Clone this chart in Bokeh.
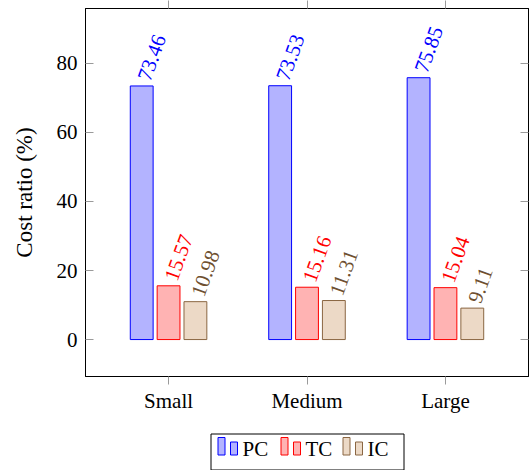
from bokeh.plotting import figure
from bokeh.models import Range1d, FixedTicker, LinearAxis, ColumnDataSource
from bokeh.layouts import column
from bokeh.core.properties import value
from bokeh.embed import file_html
from bokeh.resources import INLINE

categories = ["Small", "Medium", "Large"]
series = ["PC", "TC", "IC"]
pc = [73.46, 73.53, 75.85]
tc = [15.57, 15.16, 15.04]
ic = [10.98, 11.31, 9.11]
y_ticks = [0, 20, 40, 60, 80]

line_colors = ["#0000ff", "#ff0000", "#8a6642"]
fill_colors = ["#b3b3ff", "#ffb3b3", "#ecd9c6"]
text_colors = ["#0000ff", "#ff0000", "#6e4f30"]
offsets = [-0.194, 0.0, 0.194]
FONT = "Liberation Serif"
FS = "21px"

p = figure(width=530, height=420, x_range=Range1d(-0.6, 2.6), y_range=Range1d(-10.7, 95.9),
           toolbar_location=None, output_backend="svg",
           min_border_left=85, min_border_right=2, min_border_top=8, min_border_bottom=44)
p.xgrid.visible = False
p.ygrid.visible = False
p.outline_line_color = "black"
p.outline_line_alpha = 1.0
p.background_fill_color = "white"
p.border_fill_color = "white"

idx = list(range(len(categories)))
for k, vals in enumerate([pc, tc, ic]):
    src = ColumnDataSource(dict(x=[i + offsets[k] for i in idx], top=vals,
                                lab=["%.2f" % v for v in vals]))
    p.vbar(x="x", top="top", bottom=0, width=0.165, source=src,
           fill_color=fill_colors[k], line_color=line_colors[k], line_width=1)
    p.text(x="x", y="top", text="lab", source=src, angle=70, angle_units="deg",
           text_align="left", text_baseline="middle", x_offset=2, y_offset=-6,
           text_font=value(FONT), text_font_size=FS, text_color=text_colors[k])

tick_col = "#9a9a9a"

# bottom x axis
xa = p.xaxis[0]
xa.ticker = FixedTicker(ticks=idx)
xa.major_label_overrides = {i: c for i, c in enumerate(categories)}
xa.major_label_text_font = FONT
xa.major_label_text_font_size = FS
xa.major_label_text_color = "black"
xa.major_tick_in = 0
xa.major_tick_out = 8
xa.major_tick_line_color = tick_col
xa.minor_tick_line_color = None
xa.axis_line_color = "black"
xa.major_label_standoff = 4

# left y axis
ya = p.yaxis[0]
ya.ticker = FixedTicker(ticks=y_ticks)
ya.major_label_text_font = FONT
ya.major_label_text_font_size = FS
ya.major_label_text_color = "black"
ya.major_tick_in = 8
ya.major_tick_out = 0
ya.major_tick_line_color = tick_col
ya.minor_tick_line_color = None
ya.axis_line_color = "black"
ya.major_label_standoff = 8
ya.axis_label = "Cost ratio (%)"
ya.axis_label_text_font = FONT
ya.axis_label_text_font_size = "23px"
ya.axis_label_text_font_style = "normal"
ya.axis_label_text_color = "black"
ya.axis_label_standoff = 17

# right mirror axis
ra = LinearAxis(ticker=FixedTicker(ticks=y_ticks))
ra.major_label_overrides = {t: "" for t in y_ticks}
ra.major_label_standoff = 0
ra.major_tick_in = 8
ra.major_tick_out = 0
ra.major_tick_line_color = tick_col
ra.minor_tick_line_color = None
ra.axis_line_color = "black"
p.add_layout(ra, "right")

# top mirror axis
ta = LinearAxis(ticker=FixedTicker(ticks=idx))
ta.major_label_overrides = {i: "" for i in idx}
ta.major_label_standoff = 0
ta.major_tick_in = 0
ta.major_tick_out = 8
ta.major_tick_line_color = tick_col
ta.minor_tick_line_color = None
ta.axis_line_color = "black"
p.add_layout(ta, "above")

# legend panel: x in page pixels (frame aligned with main frame), y = pixels up from page bottom
H = 470
lg = figure(width=530, height=50, x_range=Range1d(85, 528), y_range=Range1d(0, 50),
            toolbar_location=None, output_backend="svg", min_border=0,
            min_border_left=85, min_border_right=2, min_border_top=0, min_border_bottom=0,
            x_axis_type=None, y_axis_type=None)
lg.outline_line_color = None
lg.xgrid.visible = False
lg.ygrid.visible = False
lg.quad(left=[210.5], right=[403.5], top=[H - 433.5], bottom=[H - 469.5],
        fill_color="white", line_color="black", line_width=1)
entry_x = [217.5, 280.5, 342.5]
for k, name in enumerate(series):
    x0 = entry_x[k]
    lg.quad(left=[x0, x0 + 12.5], right=[x0 + 7, x0 + 19.5], top=[H - 437, H - 441.5],
            bottom=[H - 454.5, H - 454.5], fill_color=fill_colors[k], line_color=line_colors[k],
            line_width=1)
    lg.text(x=[x0 + 24.5], y=[H - 448.5], text=[name], text_align="left",
            text_baseline="alphabetic", text_font=value(FONT), text_font_size=FS,
            text_color="black")

layout = column(p, lg, spacing=0)
open("out.html", "w").write(file_html(layout, INLINE))
